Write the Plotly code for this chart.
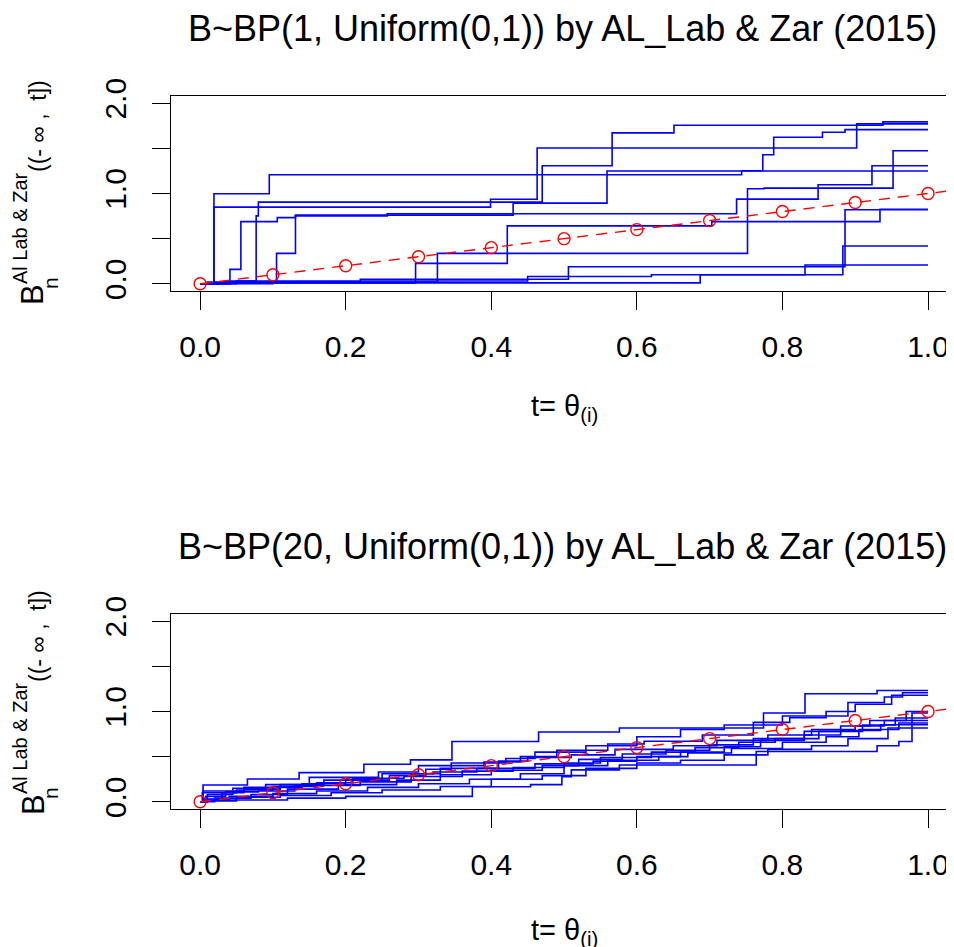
import plotly.graph_objects as go

# The page body has an 8px margin; the figure is sized so it ends at the window edge.
PAGE_OFF = 8
FW, FH = 954 - PAGE_OFF, 947 - PAGE_OFF
FONT = "Liberation Sans, Arial, sans-serif"

# ---------------- data ----------------
# Top panel: BP(1, Uniform(0,1)) sample paths (jump locations and cumulative values)
top_jump_t = [
    [0.019, 0.095, 0.744, 0.773, 0.788, 0.855, 0.886],
    [0.019, 0.399, 0.463, 0.902],
    [0.035, 0.077, 0.080, 0.470, 0.566, 0.651, 0.938],
    [0.030, 0.105, 0.131, 0.430, 0.559],
    [0.041, 0.056, 0.106, 0.131, 0.257, 0.737, 0.849, 0.923],
    [0.020, 0.296, 0.422, 0.703, 0.934],
    [0.040, 0.326, 0.752, 0.775, 0.952],
    [0.010, 0.220, 0.506, 0.886],
    [0.050, 0.450, 0.620, 0.883],
    [0.100, 0.687, 0.831],
]
top_jump_b = [
    [0.997, 1.208, 1.252, 1.430, 1.623, 1.678, 1.708],
    [0.849, 0.937, 1.504, 1.771],
    [0.030, 0.752, 0.905, 1.308, 1.671, 1.756, 1.793],
    [0.020, 0.337, 0.760, 0.893, 1.250],
    [0.160, 0.689, 0.733, 0.752, 0.775, 0.938, 1.097, 1.308],
    [0.010, 0.226, 0.641, 0.689, 0.826],
    [0.020, 0.337, 1.052, 1.060, 1.474],
    [0.020, 0.050, 0.189, 0.820],
    [0.030, 0.080, 0.100, 0.419],
    [0.010, 0.100, 0.208],
]

# Bottom panel: BP(20, Uniform(0,1)) sample paths
bot_jump_t = [
    [0.004, 0.065, 0.136, 0.225, 0.289, 0.346, 0.465, 0.576, 0.774, 0.831, 0.930],
    [0.005, 0.030, 0.060, 0.110, 0.170, 0.260, 0.310, 0.345, 0.420, 0.460, 0.530, 0.600, 0.660, 0.720, 0.800, 0.890, 0.940, 0.965],
    [0.010, 0.045, 0.090, 0.150, 0.245, 0.300, 0.390, 0.440, 0.490, 0.560, 0.610, 0.690, 0.760, 0.810, 0.860, 0.900, 0.950],
    [0.020, 0.070, 0.120, 0.190, 0.270, 0.330, 0.400, 0.470, 0.520, 0.580, 0.640, 0.700, 0.760, 0.830, 0.880, 0.920, 0.970],
    [0.010, 0.120, 0.200, 0.374, 0.454, 0.497, 0.510, 0.576, 0.764, 0.930, 0.960, 0.978],
    [0.003, 0.050, 0.100, 0.160, 0.210, 0.280, 0.360, 0.430, 0.500, 0.550, 0.620, 0.680, 0.740, 0.790, 0.850, 0.910, 0.955],
    [0.008, 0.035, 0.080, 0.130, 0.220, 0.290, 0.330, 0.410, 0.450, 0.510, 0.570, 0.650, 0.710, 0.780, 0.840, 0.900, 0.940],
    [0.006, 0.040, 0.100, 0.160, 0.230, 0.300, 0.370, 0.440, 0.500, 0.560, 0.630, 0.670, 0.730, 0.800, 0.860, 0.905, 0.960],
    [0.004, 0.060, 0.140, 0.200, 0.250, 0.320, 0.380, 0.460, 0.540, 0.600, 0.660, 0.720, 0.770, 0.830, 0.880, 0.935],
    [0.010, 0.050, 0.110, 0.180, 0.250, 0.330, 0.400, 0.470, 0.530, 0.600, 0.660, 0.720, 0.780, 0.840, 0.890, 0.945],
]
bot_jump_b = [
    [0.186, 0.253, 0.323, 0.416, 0.464, 0.668, 0.773, 0.817, 0.984, 1.196, 1.233],
    [0.030, 0.100, 0.140, 0.190, 0.240, 0.290, 0.360, 0.430, 0.480, 0.550, 0.620, 0.720, 0.800, 0.850, 0.950, 1.100, 1.160, 1.207],
    [0.080, 0.150, 0.190, 0.270, 0.330, 0.400, 0.440, 0.500, 0.570, 0.640, 0.670, 0.740, 0.880, 0.930, 1.000, 1.080, 1.180],
    [0.040, 0.080, 0.140, 0.190, 0.240, 0.300, 0.350, 0.400, 0.470, 0.530, 0.570, 0.630, 0.700, 0.780, 0.840, 0.900, 1.000],
    [0.020, 0.040, 0.060, 0.167, 0.190, 0.279, 0.353, 0.408, 0.557, 0.620, 0.668, 0.984],
    [0.100, 0.130, 0.170, 0.210, 0.260, 0.280, 0.340, 0.380, 0.430, 0.490, 0.550, 0.600, 0.660, 0.700, 0.780, 0.850, 0.928],
    [0.060, 0.110, 0.120, 0.180, 0.220, 0.310, 0.370, 0.450, 0.490, 0.520, 0.580, 0.620, 0.680, 0.740, 0.800, 0.840, 0.900],
    [0.020, 0.060, 0.090, 0.120, 0.160, 0.200, 0.250, 0.310, 0.400, 0.460, 0.500, 0.540, 0.590, 0.660, 0.720, 0.800, 0.873],
    [0.120, 0.160, 0.200, 0.250, 0.310, 0.330, 0.370, 0.420, 0.450, 0.500, 0.550, 0.610, 0.680, 0.740, 0.790, 0.854],
    [0.010, 0.050, 0.070, 0.100, 0.130, 0.170, 0.250, 0.290, 0.370, 0.430, 0.460, 0.520, 0.580, 0.620, 0.700, 0.817],
]

# Reference (prior mean) points: E[B((-inf,t])] = t
ref_t = [0.0, 0.1, 0.2, 0.3, 0.4, 0.5, 0.6, 0.7, 0.8, 0.9, 1.0]
ref_b = [0.0, 0.1, 0.2, 0.3, 0.4, 0.5, 0.6, 0.7, 0.8, 0.9, 1.0]

x_ticks = [0.0, 0.2, 0.4, 0.6, 0.8, 1.0]
x_ticktext = ["0.0", "0.2", "0.4", "0.6", "0.8", "1.0"]
y_ticks = [0.0, 1.0, 2.0]
y_ticktext = ["0.0", "1.0", "2.0"]
y_minor_ticks = [0.5, 1.5]

titles = ["B~BP(1, Uniform(0,1)) by AL_Lab & Zar (2015)",
          "B~BP(20, Uniform(0,1)) by AL_Lab & Zar (2015)"]
x_title = "t= θ<sub>(i)</sub>"
y_title_main = "B"
y_title_sub = "n"
y_title_sup = "Al Lab &amp; Zar"
y_title_arg = "((-\u00a0∞\u00a0, \u00a0t])"

X_RANGE = [-0.04, 1.0357]
Y_RANGE = [-0.08, 2.08]

# ---------------- figure ----------------
fig = go.Figure()

def add_panel(jt, jb, xa, ya):
    for t, b in zip(jt, jb):
        fig.add_trace(go.Scatter(
            x=[0.0] + t + [1.0], y=[0.0] + b + [b[-1]],
            mode="lines", line=dict(color="#0000FF", width=1.6, shape="hv"),
            xaxis=xa, yaxis=ya, showlegend=False, hoverinfo="skip"))
    fig.add_trace(go.Scatter(
        x=[ref_t[0], X_RANGE[1]], y=[ref_b[0], X_RANGE[1]],
        mode="lines", line=dict(color="#FF0000", width=1.4, dash="11px,8px"),
        xaxis=xa, yaxis=ya, showlegend=False, hoverinfo="skip"))
    fig.add_trace(go.Scatter(
        x=ref_t, y=ref_b, mode="markers",
        marker=dict(symbol="circle-open", size=12, color="#FF0000",
                    line=dict(width=1.4, color="#FF0000")),
        xaxis=xa, yaxis=ya, showlegend=False, hoverinfo="skip"))

add_panel(top_jump_t, top_jump_b, "x", "y")
add_panel(bot_jump_t, bot_jump_b, "x2", "y2")

def fx(p):  # window pixel -> paper x
    return (p - PAGE_OFF) / FW

def fy(p):  # window pixel -> paper y
    return 1 - (p - PAGE_OFF) / FH

xdom = [fx(171), 1.0]
top_dom = [fy(291), fy(96)]
bot_dom = [fy(809), fy(614)]

axis_common = dict(showgrid=False, zeroline=False, showline=True, linecolor="black",
                   linewidth=1.3, ticks="outside", ticklen=18, tickwidth=1.3,
                   tickcolor="black", tickfont=dict(family=FONT, size=30, color="black"),
                   automargin=False, fixedrange=True)

xax = dict(axis_common, range=X_RANGE, domain=xdom, tickvals=x_ticks, ticktext=x_ticktext,
           mirror=True, ticklabelstandoff=11)
yax = dict(axis_common, range=Y_RANGE, tickvals=y_ticks, ticktext=y_ticktext,
           tickangle=-90, mirror=False, ticklabelstandoff=14,
           minor=dict(tickvals=y_minor_ticks, ticks="outside", ticklen=18, tickwidth=1.3,
                      tickcolor="black", showgrid=False))

fig.update_layout(
    width=FW, height=FH, margin=dict(l=0, r=0, t=0, b=0),
    paper_bgcolor="white", plot_bgcolor="white", template="none",
    xaxis=dict(xax, anchor="y"),
    yaxis=dict(yax, domain=top_dom, anchor="x"),
    xaxis2=dict(xax, anchor="y2"),
    yaxis2=dict(yax, domain=bot_dom, anchor="x2"),
)

ann = []
for ttl, yc in zip(titles, [28, 546]):
    ann.append(dict(text=ttl, x=fx(562), y=fy(yc), xref="paper", yref="paper",
                    xanchor="center", yanchor="middle", showarrow=False,
                    font=dict(family=FONT, size=36, color="black")))
for yc in [408, 932]:
    ann.append(dict(text=x_title, x=fx(564), y=fy(yc), xref="paper", yref="paper",
                    xanchor="center", yanchor="middle", showarrow=False,
                    font=dict(family=FONT, size=29, color="black")))

# y-axis label pieces (rotated): B, subscript n, superscript, argument
LABEL_SHIFT = 510
pieces = [(y_title_main, 31, 33, 295),
          (y_title_sub, 21, 50, 283),
          (y_title_sup, 20, 20, 228),
          (y_title_arg, 23, 38, 126)]
for shift in [0, LABEL_SHIFT]:
    for txt, size, xc, yc in pieces:
        ann.append(dict(text=txt, x=fx(xc), y=fy(yc + shift), xref="paper", yref="paper",
                        xanchor="center", yanchor="middle", showarrow=False, textangle=-90,
                        font=dict(family=FONT, size=size, color="black")))
fig.update_layout(annotations=ann)

fig.write_html("out.html")
